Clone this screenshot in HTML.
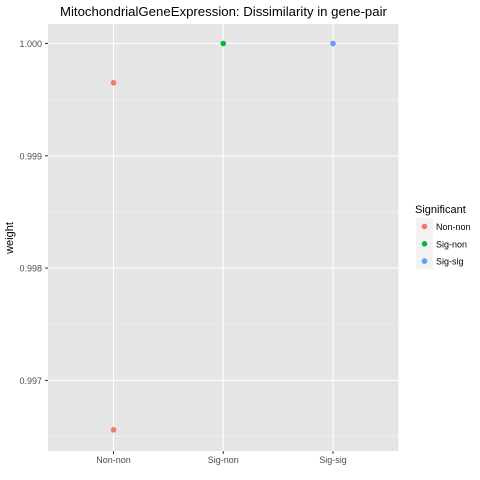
<!DOCTYPE html>
<html><head><meta charset="utf-8"><style>body{margin:0;background:#fff}svg{display:block;font-family:"Liberation Sans",Arial,sans-serif}</style></head>
<body>
<svg id="c" width="480" height="480">
<text x="60" y="16" font-size="13.2" fill="#000">MitochondrialGeneExpression: Dissimilarity in gene-pair</text>
<rect x="48" y="24" width="350.5" height="427" fill="#e5e5e5"/>
<g id="grid"></g><g id="axes"></g><g id="pts"></g>
<text transform="translate(13,238) rotate(-90)" text-anchor="middle" font-size="11">weight</text>
<g>
<text x="415" y="213" font-size="11">Significant</text>
<g id="leg"></g></g>
</svg>
<script>
const categories=["Non-non","Sig-non","Sig-sig"];
const xVals=["Non-non","Non-non","Sig-non","Sig-sig"];
const yVals=[0.99965,0.99656,1.0,1.0];
const groups=["Non-non","Non-non","Sig-non","Sig-sig"];
const yTicks=[0.997,0.998,0.999,1.000];
const colors={"Non-non":"#F8766D","Sig-non":"#00BA38","Sig-sig":"#619CFF"};
const ns="http://www.w3.org/2000/svg";
const X=c=>113.5+categories.indexOf(c)*109.75;
const Y=v=>43.5+(1-v)*112300;
function mk(p,t,a){const e=document.createElementNS(ns,t);for(const k in a)e.setAttribute(k,a[k]);document.getElementById(p).appendChild(e);return e;}
for(let i=0;i<yTicks.length;i++){
 const y=Y(yTicks[i]);
 if(i<yTicks.length-1){const m=mk('grid','line',{x1:48,x2:398.5,y1:(y+Y(yTicks[i+1]))/2,y2:(y+Y(yTicks[i+1]))/2,stroke:'#f2f2f2','stroke-width':0.6});
 }
 if(i==0){const m=mk('grid','line',{x1:48,x2:398.5,y1:y+56,y2:y+56,stroke:'#f2f2f2','stroke-width':0.6});}
 const g=mk('grid','line',{x1:48,x2:398.5,y1:y,y2:y,stroke:'#fff','stroke-width':1.1});
 
 const t=mk('axes','line',{x1:45,x2:48,y1:y,y2:y,stroke:'#333'});
 
 const l=mk('axes','text',{x:42,y:y+3.5,'text-anchor':'end','font-size':9,fill:'#4d4d4d'});l.textContent=yTicks[i].toFixed(3);
 
}
categories.forEach(c=>{const x=X(c);
 const g=mk('grid','line',{x1:x,x2:x,y1:24,y2:451,stroke:'#fff','stroke-width':1.1});
 
 const t=mk('axes','line',{x1:x,x2:x,y1:451,y2:454,stroke:'#333'});
 
 const l=mk('axes','text',{x:x,y:463,'text-anchor':'middle','font-size':9,fill:'#4d4d4d'});l.textContent=c;
 
});
xVals.forEach((c,i)=>{const p=mk('pts','circle',{cx:X(c),cy:Y(yVals[i]),r:2.8,fill:colors[groups[i]]});
 });
categories.forEach((c,i)=>{const y=218+i*17.3;
 const r=mk('leg','rect',{x:416,y:y,width:17,height:17,fill:'#f2f2f2'});
 
 const p=mk('leg','circle',{cx:424.5,cy:y+8.5,r:2.8,fill:colors[c]});
 
 const t=mk('leg','text',{x:436,y:y+12,'font-size':9,fill:'#000'});t.textContent=c;
 
});
</script>
</body></html>
